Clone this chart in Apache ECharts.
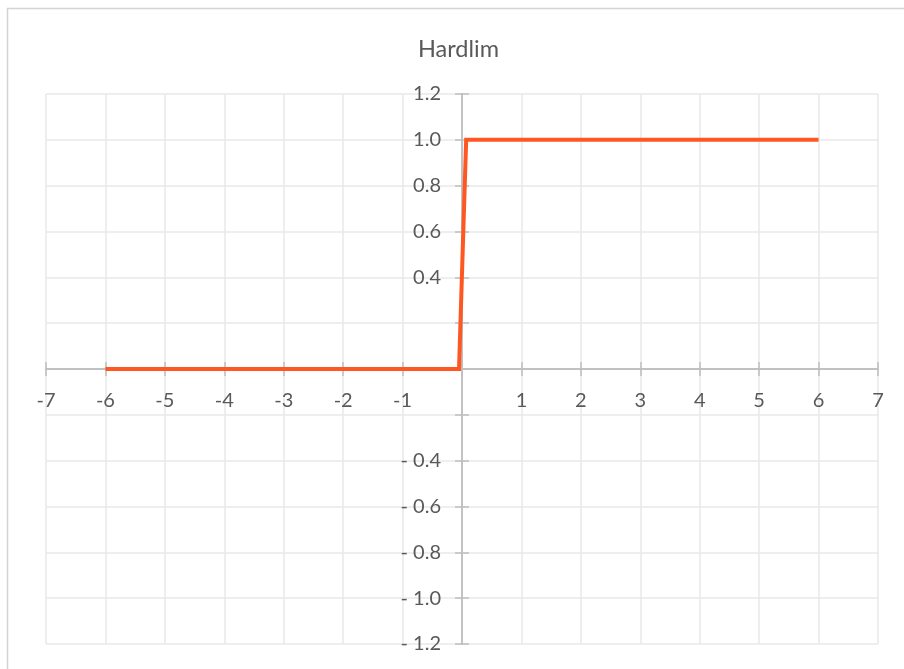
<!DOCTYPE html>
<html>
<head>
<meta charset="utf-8">
<script src="https://cdn.jsdelivr.net/npm/echarts@6/dist/echarts.min.js"></script>
<style>
html,body{margin:0;padding:0;background:#fff;}
#chart{width:904px;height:669px;}
</style>
</head>
<body>
<div id="chart"></div>
<script>
// ---- data ----
const chartTitle = 'Hardlim';
const xValues = [-6, -0.05, 0.07, 6];
const yValues = [0, 0, 1, 1];
const xTicks = [-7, -6, -5, -4, -3, -2, -1, 0, 1, 2, 3, 4, 5, 6, 7];
const xTickLabels = ['-7', '-6', '-5', '-4', '-3', '-2', '-1', '', '1', '2', '3', '4', '5', '6', '7'];
const yTicks = [-1.2, -1.0, -0.8, -0.6, -0.4, -0.2, 0, 0.2, 0.4, 0.6, 0.8, 1.0, 1.2];
const yTickLabels = ['- 1.2', '- 1.0', '- 0.8', '- 0.6', '- 0.4', '', '', '', '0.4', '0.6', '0.8', '1.0', '1.2'];

function lookup(ticks, labels, v) {
  for (let i = 0; i < ticks.length; i++) {
    if (Math.abs(ticks[i] - v) < 1e-6) return labels[i];
  }
  return '';
}

const textColor = '#595959';
const axisColor = '#bfbfbf';
const gridColor = '#e9e9e9';
const fontFamily = 'Lato, "Open Sans", sans-serif';
const fontSize = 20;

const W = 904, H = 669;
const gridBox = {left: 46, right: 26, top: 94, bottom: 25};
const gw = W - gridBox.left - gridBox.right;
const gh = H - gridBox.top - gridBox.bottom;
const xMin = xTicks[0], xMax = xTicks[xTicks.length - 1];
const yMin = yTicks[0], yMax = yTicks[yTicks.length - 1];
// distance of the zero lines from the grid edges (axes cross at the origin)
const xZeroFromLeft = gw * (0 - xMin) / (xMax - xMin);
const yZeroFromTop = gh * (yMax - 0) / (yMax - yMin);

const chart = echarts.init(document.getElementById('chart'), null, {renderer: 'canvas'});

const tickStyle = {color: axisColor, width: 1.5};
const xCommon = {
  type: 'value', min: xMin, max: xMax, interval: 1,
  axisLine: {onZero: false, lineStyle: {color: axisColor, width: 1.5}},
  axisTick: {show: true, length: 7, lineStyle: tickStyle}
};
const yCommon = {
  type: 'value', min: yMin, max: yMax, interval: 0.2,
  axisLine: {onZero: false, lineStyle: {color: axisColor, width: 1.5}},
  axisTick: {show: true, length: 7, lineStyle: tickStyle}
};

chart.setOption({
  animation: false,
  backgroundColor: '#ffffff',
  title: {
    text: chartTitle,
    left: 413,
    top: 32,
    textStyle: {color: textColor, fontFamily: fontFamily, fontSize: 23.5, fontWeight: 'normal'}
  },
  graphic: [{
    type: 'rect',
    silent: true,
    z: -10,
    shape: {x: 7.5, y: 8.5, width: 1000, height: 1000},
    style: {fill: 'none', stroke: '#d4d4d4', lineWidth: 1.5}
  }],
  grid: Object.assign({containLabel: false, outerBoundsMode: 'none'}, gridBox),
  xAxis: [
    Object.assign({}, xCommon, {
      position: 'bottom',
      offset: -(gh - yZeroFromTop),
      axisLabel: {
        show: true, margin: 22, color: textColor, fontFamily: fontFamily, fontSize: fontSize,
        formatter: v => lookup(xTicks, xTickLabels, v)
      },
      splitLine: {show: true, lineStyle: {color: gridColor, width: 1.5}}
    }),
    Object.assign({}, xCommon, {
      position: 'top',
      offset: -yZeroFromTop,
      axisLabel: {show: false},
      splitLine: {show: false}
    })
  ],
  yAxis: [
    Object.assign({}, yCommon, {
      position: 'left',
      offset: -xZeroFromLeft,
      axisLabel: {
        show: true, margin: 21, color: textColor, fontFamily: fontFamily, fontSize: fontSize,
        formatter: v => lookup(yTicks, yTickLabels, v)
      },
      splitLine: {show: true, lineStyle: {color: gridColor, width: 1.5}}
    }),
    Object.assign({}, yCommon, {
      position: 'right',
      offset: -(gw - xZeroFromLeft),
      axisLabel: {show: false},
      splitLine: {show: false}
    })
  ],
  series: [{
    type: 'line',
    xAxisIndex: 0,
    yAxisIndex: 0,
    data: xValues.map((x, i) => [x, yValues[i]]),
    showSymbol: false,
    symbol: 'none',
    lineStyle: {color: '#ff5722', width: 4, cap: 'butt', join: 'miter'},
    z: 10
  }]
});
</script>
</body>
</html>
